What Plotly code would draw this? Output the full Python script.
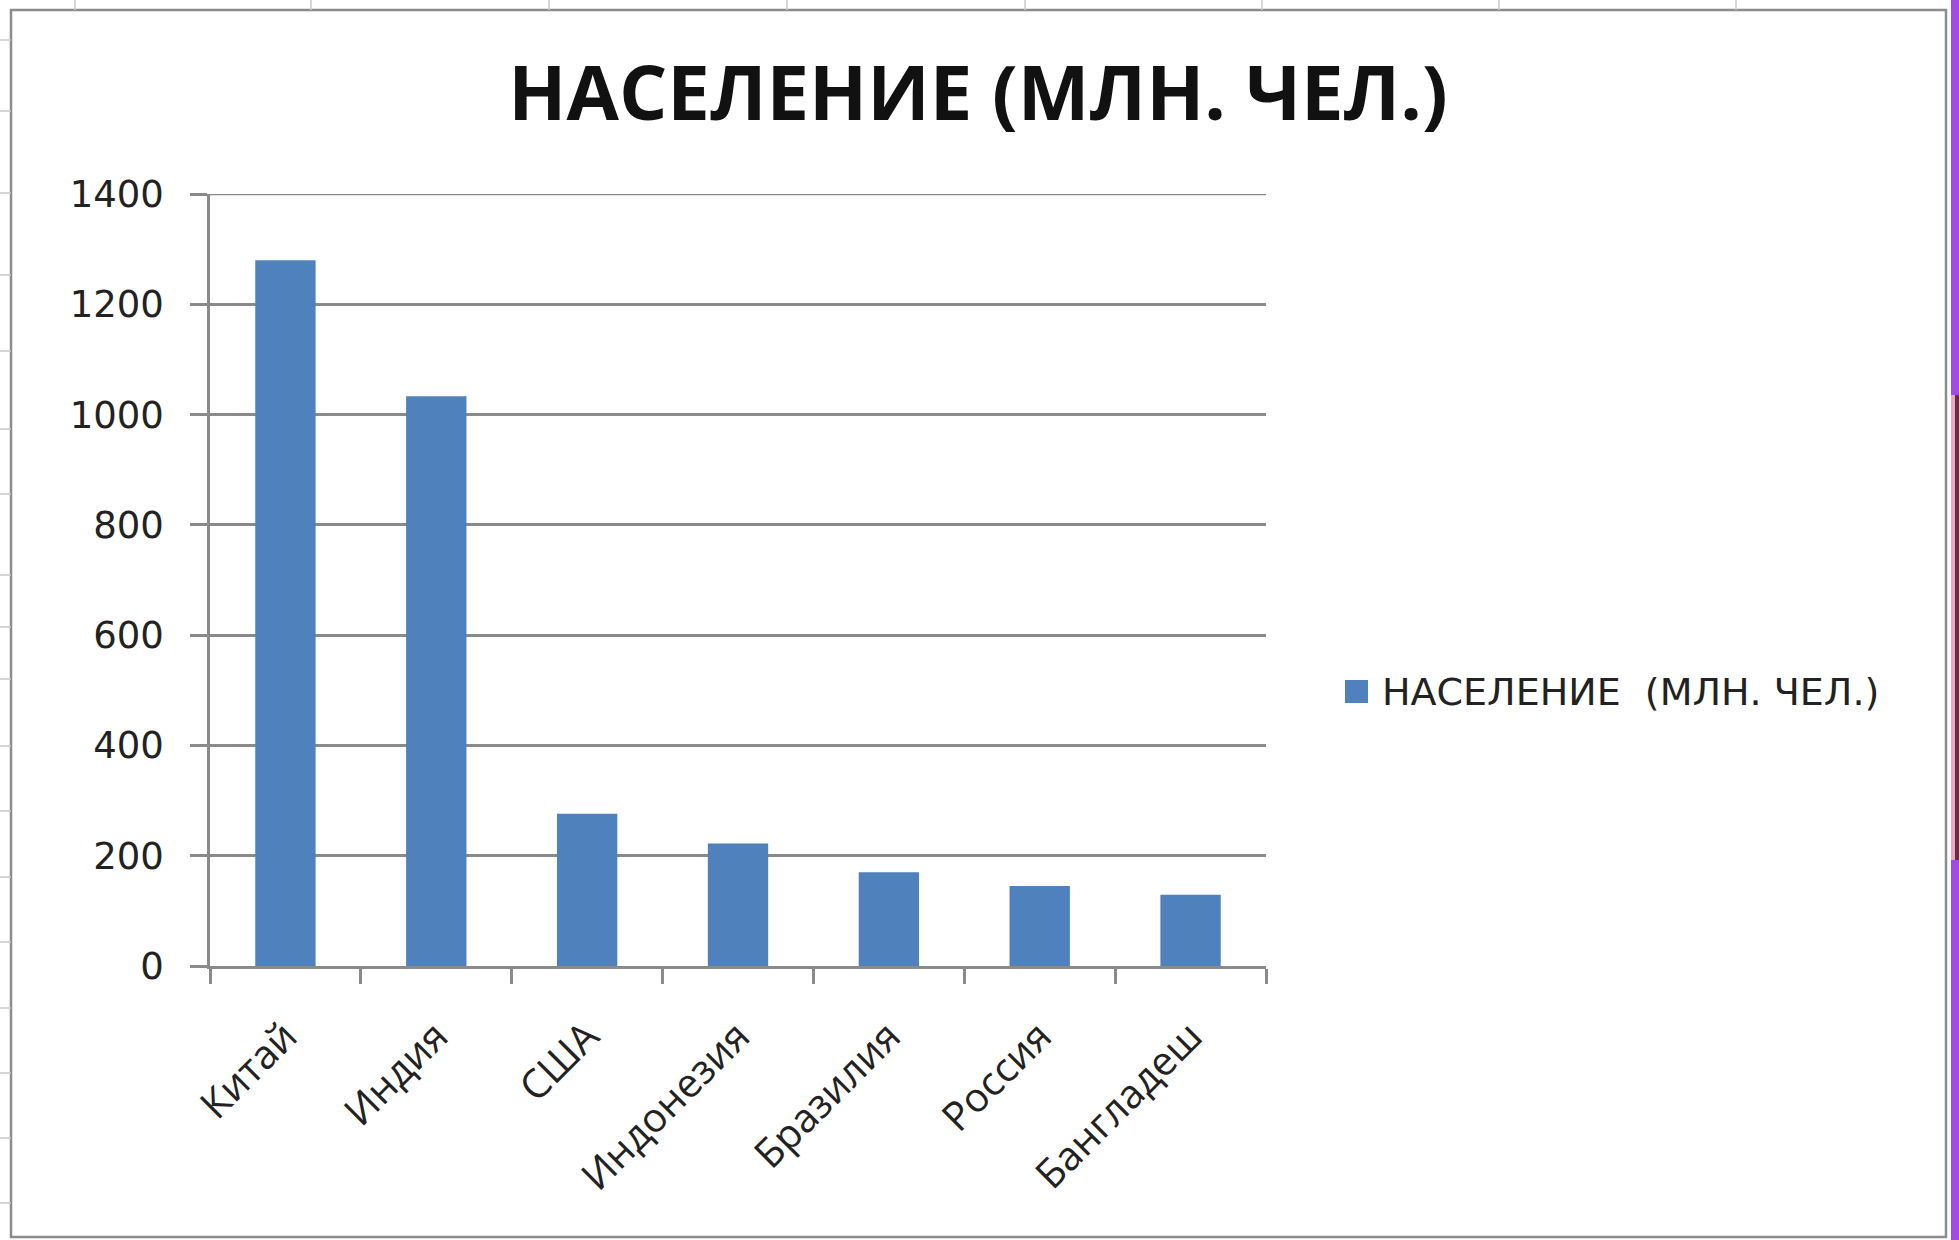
import plotly.graph_objects as go

# ---- data ----
countries = ["Китай", "Индия", "США", "Индонезия", "Бразилия", "Россия", "Бангладеш"]
population = [1280, 1033, 276, 222, 170, 145, 129]
series_name = "НАСЕЛЕНИЕ  (МЛН. ЧЕЛ.)"
title_text = "НАСЕЛЕНИЕ (МЛН. ЧЕЛ.)"
y_ticks = [0, 200, 400, 600, 800, 1000, 1200, 1400]

# ---- layout geometry (pixels) ----
W, H = 1959, 1240
L, R, T, B = 210, 1266, 194, 966
PW, PH = R - L, B - T

def fx(px):
    return (px - L) / PW

def fy(py):
    return (B - py) / PH

BAR = "#4F81BD"
GRID = "#8A8A8A"

fig = go.Figure()
fig.add_trace(go.Bar(
    x=countries, y=population, name=series_name,
    marker=dict(color=BAR, line=dict(width=0)),
    width=0.4, showlegend=False,
))

shapes = []
# top gridline (at the upper end of the range)
shapes.append(dict(type="line", xref="paper", yref="y",
                   x0=0, x1=1, y0=y_ticks[-1], y1=y_ticks[-1],
                   line=dict(color=GRID, width=2.5), layer="below"))
# chart border
shapes.append(dict(type="rect", xref="paper", yref="paper",
                   x0=fx(11), x1=fx(1946), y0=fy(10), y1=fy(1237),
                   line=dict(color="#8C8C8C", width=2.5), fillcolor="rgba(0,0,0,0)", layer="below"))
# spreadsheet column separators visible above the chart
for cx in [75, 311, 549, 787, 1025, 1262, 1499, 1736]:
    shapes.append(dict(type="line", xref="paper", yref="paper",
                       x0=fx(cx), x1=fx(cx), y0=fy(0), y1=fy(10),
                       line=dict(color="#C8C8C8", width=1.5)))
# spreadsheet row separators visible left of the chart
for ry in [40, 111, 193, 275, 351, 429, 494, 575, 627, 679, 746, 811, 877, 942, 1008, 1073, 1138, 1203]:
    shapes.append(dict(type="line", xref="paper", yref="paper",
                       x0=fx(0), x1=fx(11), y0=fy(ry), y1=fy(ry),
                       line=dict(color="#C8C8C8", width=1.5)))
# right edge strip
shapes.append(dict(type="rect", xref="paper", yref="paper",
                   x0=fx(1951), x1=fx(1960), y0=fy(0), y1=fy(395),
                   line=dict(width=0), fillcolor="#A24BE6"))
shapes.append(dict(type="rect", xref="paper", yref="paper",
                   x0=fx(1951), x1=fx(1960), y0=fy(395), y1=fy(860),
                   line=dict(width=0), fillcolor="#E8A9C9"))
shapes.append(dict(type="rect", xref="paper", yref="paper",
                   x0=fx(1955), x1=fx(1960), y0=fy(395), y1=fy(860),
                   line=dict(width=0), fillcolor="#6B2C3C"))
shapes.append(dict(type="rect", xref="paper", yref="paper",
                   x0=fx(1951), x1=fx(1960), y0=fy(860), y1=fy(1240),
                   line=dict(width=0), fillcolor="#A24BE6"))
# legend key square
shapes.append(dict(type="rect", xref="paper", yref="paper",
                   x0=fx(1345), x1=fx(1368), y0=fy(680), y1=fy(703),
                   line=dict(width=0), fillcolor=BAR))

annotations = [
    dict(text=series_name, xref="paper", yref="paper",
         x=fx(1380), y=fy(692), xanchor="left", yanchor="middle",
         showarrow=False, font=dict(family="DejaVu Sans", size=38, color="#222222")),
]

fig.update_layout(
    width=W, height=H,
    margin=dict(l=L, r=W - R, t=T, b=H - B, pad=0),
    paper_bgcolor="white", plot_bgcolor="white",
    title=dict(text=title_text, x=978 / W, xref="container", xanchor="center",
               y=1 - 93 / H, yref="container", yanchor="middle",
               font=dict(family="Open Sans", size=76, color="#111111", weight="bold")),
    bargap=0.6,
    shapes=shapes,
    annotations=annotations,
    showlegend=False,
    xaxis=dict(
        type="category", categoryorder="array", categoryarray=countries,
        showline=True, linecolor=GRID, linewidth=2.5,
        ticks="outside", tickson="boundaries", ticklen=15, tickwidth=2.5, tickcolor=GRID,
        tickangle=-45, ticklabelstandoff=28,
        tickfont=dict(family="Open Sans", size=40, color="#222222"),
        showgrid=False, zeroline=False,
    ),
    yaxis=dict(
        range=[0, 1400], tickvals=y_ticks, ticktext=[str(v) for v in y_ticks],
        showline=True, linecolor=GRID, linewidth=2.5,
        ticks="outside", ticklen=17, tickwidth=2.5, tickcolor=GRID,
        ticklabelstandoff=19,
        tickfont=dict(family="DejaVu Sans", size=37, color="#222222"),
        showgrid=True, gridcolor=GRID, gridwidth=2.5, zeroline=False,
    ),
)

fig.write_html("out.html", config={"displayModeBar": False},
               post_script="document.body.style.margin='0';")
